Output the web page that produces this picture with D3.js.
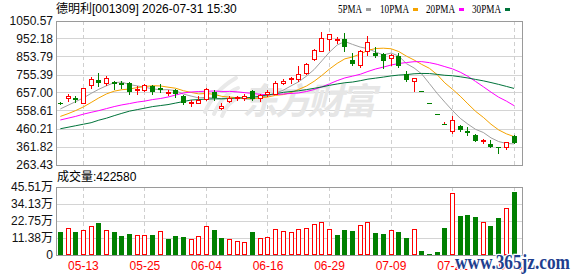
<!DOCTYPE html>
<html>
<head>
<meta charset="utf-8">
<script src="https://cdn.jsdelivr.net/npm/d3@7"></script>
<style>
    body { margin: 0; background: #fff; }
    svg { display: block; }
    text { font-family: "Liberation Sans", Arial, "Noto Sans CJK SC", sans-serif; }
</style>
</head>
<body>
<div id="chart"></div>
<script>
// trading days shown (60 candles)
let dates = ["05-08", "05-11", "05-12", "05-13", "05-14", "05-15", "05-18", "05-19", "05-20", "05-21",
    "05-22", "05-25", "05-26", "05-27", "05-28", "05-29", "06-01", "06-02", "06-03", "06-04",
    "06-05", "06-08", "06-09", "06-10", "06-11", "06-12", "06-15", "06-16", "06-17", "06-18",
    "06-22", "06-23", "06-24", "06-25", "06-26", "06-29", "06-30", "07-01", "07-02", "07-03",
    "07-06", "07-07", "07-08", "07-09", "07-10", "07-13", "07-14", "07-15", "07-16", "07-17",
    "07-20", "07-21", "07-22", "07-23", "07-24", "07-27", "07-28", "07-29", "07-30", "07-31"];

let open = [603, 630, 632, 603, 698, 726, 709, 715, 712, 709, 671, 673, 694, 684, 658, 671, 643, 603, 603, 625,
    661, 573, 612, 627, 627, 667, 628, 653, 654, 709, 731, 731, 768, 841, 887, 952, 946, 952, 838, 810,
    887, 878, 869, 851, 860, 759, 722, 667, 600, 540, 486, 452, 478, 451, 429, 392, 377, 361, 361, 423];
let high = [610, 652, 640, 684, 744, 764, 748, 720, 720, 719, 693, 706, 698, 704, 671, 680, 645, 621, 643, 686,
    672, 602, 640, 643, 649, 672, 649, 671, 722, 731, 746, 805, 823, 900, 988, 981, 963, 984, 878, 893,
    966, 906, 878, 869, 878, 777, 741, 667, 600, 540, 498, 529, 484, 469, 434, 408, 401, 363, 388, 426];
let low = [596, 616, 610, 600, 686, 695, 701, 681, 687, 649, 654, 668, 649, 661, 645, 636, 599, 584, 602, 621,
    621, 571, 606, 617, 617, 621, 612, 639, 649, 704, 709, 722, 759, 838, 884, 893, 930, 887, 808, 801,
    865, 856, 792, 810, 799, 722, 667, 667, 600, 540, 486, 438, 452, 429, 396, 383, 364, 331, 350, 385];
let close = [600, 640, 621, 682, 731, 712, 737, 706, 698, 660, 679, 698, 664, 671, 664, 653, 603, 610, 621, 680,
    631, 588, 627, 635, 639, 625, 646, 660, 713, 720, 740, 759, 814, 893, 957, 979, 954, 909, 814, 884,
    937, 860, 832, 863, 805, 728, 741, 667, 600, 540, 486, 511, 456, 441, 397, 401, 364, 355, 388, 386];
let prevClose = 607; // close of the day before 05-08

let volume = [153900, 178700, 153900, 167300, 192000, 214200, 165300, 153900, 127200, 138500,
    131800, 131800, 133900, 158600, 107100, 127200, 120500, 105100, 126000, 192000,
    167300, 113800, 107100, 93700, 87000, 153900, 113800, 120500, 172000, 160600,
    153900, 172000, 178700, 205500, 220900, 172000, 133900, 167300, 160600, 200800,
    220900, 147200, 140500, 167300, 153900, 113800, 172000, 26800, 6700, 20000,
    180700, 414900, 261000, 267700, 254300, 218800, 194100, 247600, 314600, 422580];

let ma5 = [570, 590, 610, 630, 654.8, 677.2, 696.6, 713.6, 716.8, 702.6, 696, 688.2, 679.8, 674.4, 675.2, 670, 651, 640.2, 630.2, 633.4,
    629, 626, 629.4, 632.2, 624, 622.8, 634.4, 641, 656.6, 672.8, 695.8, 718.4, 749.2, 785.2, 832.6, 880.4, 919.4, 938.4, 922.6, 908,
    899.6, 880.8, 865.4, 875.2, 859.4, 817.6, 793.8, 760.8, 708.2, 655.2, 606.8, 560.8, 518.6, 486.8, 458.2, 441.2, 411.8, 391.6, 381, 378.8];
let ma10 = [529, 544, 561, 581, 605, 630, 652, 667, 675, 678.7, 686.6, 692.4, 696.7, 695.6, 688.9, 683, 669.6, 660, 652.3, 654.3,
    649.5, 638.5, 634.8, 631.2, 628.7, 625.9, 630.2, 635.2, 644.4, 648.4, 659.3, 676.4, 695.1, 720.9, 752.7, 788.1, 818.9, 843.8, 853.9, 870.3,
    890, 900.1, 901.9, 898.9, 883.7, 858.6, 837.3, 813.1, 791.7, 757.3, 712.2, 677.3, 639.7, 597.5, 556.7, 524, 486.3, 455.1, 433.9, 418.5];
let ma20 = [509.5, 519.4, 529.3, 541.4, 551.3, 560.7, 571.7, 582.7, 592, 599.2, 607.4, 613, 621.2, 626.7, 635, 646, 657, 662.5, 665.2, 666.5,
    668, 665.5, 665.8, 663.4, 658.8, 654.5, 649.9, 647.6, 648.4, 651.4, 654.4, 657.5, 665, 676, 690.7, 707, 724.6, 739.5, 749.2, 759.4,
    774.7, 788.3, 798.5, 809.9, 818.2, 823.4, 828.1, 828.5, 822.8, 813.8, 801.1, 788.7, 770.8, 748.2, 720.2, 691.3, 661.8, 634.1, 612.8, 587.9];
let ma30 = [461.6, 469.8, 478.1, 486.4, 494.6, 508.4, 519.4, 533.1, 545.8, 557.9, 566.2, 574.4, 582.7, 588.2, 593.7, 602, 610.2, 618.5, 621.2, 624,
    625, 625, 626.7, 629.5, 630.6, 633.3, 640, 647, 653, 660.5, 665.1, 669.1, 675.5, 682.6, 690.1, 699, 706.2, 713, 716.9, 724.3,
    732.9, 738.3, 743.9, 750.3, 755, 757.5, 762.1, 764, 763.3, 758.7, 753.8, 751.3, 745.6, 739.1, 731.1, 723.5, 714.1, 704, 693.1, 682];

let priceTicks = [263.43, 361.82, 460.21, 558.61, 657.00, 755.39, 853.79, 952.18, 1050.57];
let volTicks = [0, 113775, 227550, 341325, 455100];
let volLabels = ["0", "11.38万", "22.75万", "34.13万", "45.51万"];
let dateTicks = ["05-13", "05-25", "06-04", "06-16", "06-29", "07-09", "07-21", "07-31"];
let maNames = ["5PMA", "10PMA", "20PMA", "30PMA"];
let maColors = ["#a0a0a0", "#f5a300", "#ff00ff", "#00733a"];

let width = 578, height = 276;
let left = 56, right = 522;
let priceTop = 21, priceBottom = 165;
let volTop = 187, volBottom = 255;
let upColor = "#ff0000", downColor = "#008000";

let svg = d3.select("#chart").append("svg")
    .attr("width", width)
    .attr("height", height);

let x = d3.scaleBand().domain(dates).range([left, left + dates.length * 7.69]);
let y = d3.scaleLinear().domain([priceTicks[0], priceTicks[priceTicks.length - 1]]).range([priceBottom, priceTop]);
let yv = d3.scaleLinear().domain([volTicks[0], volTicks[volTicks.length - 1]]).range([volBottom, volTop]);

let bw = x.bandwidth();
let col = d => Math.round(x(d) + bw / 2);   // pixel column of a candle
let crisp = v => Math.floor(v) + 0.5;

// grid
let grid = svg.append("g");
grid.selectAll(".pgrid").data(priceTicks.slice(1, -1)).join("line")
    .attr("x1", left).attr("x2", right)
    .attr("y1", d => crisp(y(d))).attr("y2", d => crisp(y(d)))
    .attr("stroke", "#d4d4d4");
grid.selectAll(".vgrid").data(volTicks.slice(1, -1)).join("line")
    .attr("x1", left).attr("x2", right)
    .attr("y1", d => crisp(yv(d))).attr("y2", d => crisp(yv(d)))
    .attr("stroke", "#d4d4d4");
[[priceTop, priceBottom], [volTop, volBottom]].forEach(([t, b]) => {
    grid.append("g").selectAll("line").data(dateTicks).join("line")
        .attr("x1", d => col(d) + 0.5).attr("x2", d => col(d) + 0.5)
        .attr("y1", t).attr("y2", b)
        .attr("stroke", "#cfcfcf")
        .attr("stroke-dasharray", "4,3");
});

// background watermark
let wm = svg.append("g").attr("fill", "none").attr("stroke", "#e9e9e9").attr("stroke-width", 4).attr("stroke-linecap", "round");
wm.append("path").attr("d", "M205,112 C212,96 222,86 236,78");
wm.append("path").attr("d", "M214,114 C220,100 228,92 238,88");
wm.append("path").attr("d", "M222,116 C226,106 232,100 238,98");
svg.append("text")
    .attr("x", 242).attr("y", 114)
    .attr("textLength", 134)
    .style("font-family", "'Noto Sans CJK SC', sans-serif")
    .style("font-size", "36px")
    .style("font-weight", "bold")
    .style("font-style", "italic")
    .attr("fill", "#e6e6e6")
    .text("东方财富");

// frames
svg.append("rect").attr("x", left + 0.5).attr("y", priceTop + 0.5)
    .attr("width", right - left).attr("height", priceBottom - priceTop)
    .attr("fill", "none").attr("stroke", "#9a9a9a");
svg.append("rect").attr("x", left + 0.5).attr("y", volTop + 0.5)
    .attr("width", right - left).attr("height", volBottom - volTop)
    .attr("fill", "none").attr("stroke", "#9a9a9a");

// moving averages
[ma5, ma10, ma20, ma30].forEach((ma, k) => {
    let line = d3.line()
        .x((d, i) => x(dates[i]) + bw / 2 + 0.5)
        .y(d => y(d));
    svg.append("path").datum(ma)
        .attr("d", line)
        .attr("fill", "none")
        .attr("stroke", maColors[k])
        .attr("stroke-width", 1);
});

// candles
let candles = svg.append("g").selectAll("g").data(dates).join("g");
candles.append("line")
    .attr("x1", d => col(d) + 0.5).attr("x2", d => col(d) + 0.5)
    .attr("y1", (d, i) => Math.round(y(high[i])))
    .attr("y2", (d, i) => Math.round(y(low[i])) + 1)
    .attr("stroke", (d, i) => close[i] >= open[i] ? upColor : downColor);
candles.append("rect")
    .each(function (d, i) {
        let c = col(d);
        let r = d3.select(this);
        if (close[i] > open[i]) {
            let top = Math.round(y(close[i])) + 0.5;
            let bottom = Math.round(y(open[i])) + 0.5;
            r.attr("x", c - 1.5).attr("width", 4)
                .attr("y", top).attr("height", Math.max(1, bottom - top))
                .attr("fill", "#fff").attr("stroke", upColor);
        } else {
            let top = Math.round(y(open[i]));
            let bottom = Math.round(y(close[i]));
            r.attr("x", c - 2).attr("width", 5)
                .attr("y", top).attr("height", Math.max(1, bottom - top))
                .attr("fill", downColor);
        }
    });

// volume bars, coloured by change against the previous close
svg.append("g").selectAll("rect").data(dates).join("rect")
    .each(function (d, i) {
        let c = col(d);
        let r = d3.select(this);
        let before = i === 0 ? prevClose : close[i - 1];
        if (close[i] >= before) {
            let top = Math.round(yv(volume[i])) + 0.5;
            r.attr("x", c - 1.5).attr("width", 4)
                .attr("y", top).attr("height", volBottom - 0.5 - top)
                .attr("fill", "#fff").attr("stroke", upColor);
        } else {
            let top = Math.round(yv(volume[i]));
            r.attr("x", c - 2).attr("width", 5)
                .attr("y", top).attr("height", volBottom - top)
                .attr("fill", downColor);
        }
    });

// axes
let priceAxis = svg.append("g")
    .attr("transform", "translate(" + left + ",0)")
    .call(d3.axisLeft(y).tickValues(priceTicks).tickFormat(d => d.toFixed(2)).tickSize(0).tickPadding(3));
let volAxis = svg.append("g")
    .attr("transform", "translate(" + left + ",0)")
    .call(d3.axisLeft(yv).tickValues(volTicks).tickFormat((d, i) => volLabels[i]).tickSize(0).tickPadding(3));
let dateAxis = svg.append("g")
    .attr("transform", "translate(0," + volBottom + ")")
    .call(d3.axisBottom(x).tickValues(dateTicks).tickSize(0).tickPadding(6.5));
[priceAxis, volAxis, dateAxis].forEach(a => {
    a.select(".domain").remove();
    a.selectAll("text")
        .style("font-family", "'Liberation Sans', Arial, 'Noto Sans CJK SC', sans-serif")
        .style("font-size", "12px")
        .attr("fill", "#111");
});
dateAxis.selectAll("text").attr("fill", "#f00").attr("x", 0.5);

// titles
svg.append("text")
    .attr("x", left).attr("y", 12.5)
    .style("font-size", "12px")
    .attr("fill", "#000")
    .text("德明利[001309] 2026-07-31 15:30");
svg.append("text")
    .attr("x", left + 1).attr("y", 181)
    .style("font-size", "12px")
    .attr("fill", "#000")
    .text("成交量:" + volume[volume.length - 1]);

// legend
let legendX = [338, 380, 426, 472];
let legend = svg.append("g").selectAll("g").data(maNames).join("g");
legend.append("text")
    .attr("x", (d, i) => legendX[i]).attr("y", 12.5)
    .attr("textLength", (d, i) => i === 0 ? 24 : 29)
    .attr("lengthAdjust", "spacingAndGlyphs")
    .style("font-family", "'Liberation Serif', serif")
    .style("font-size", "12px")
    .attr("fill", "#000")
    .text(d => d);
legend.append("rect")
    .attr("x", (d, i) => legendX[i] + (i === 0 ? 28 : 33)).attr("y", 8)
    .attr("width", 5).attr("height", 3)
    .attr("fill", (d, i) => maColors[i]);

// site watermark
svg.append("text")
    .attr("x", 455).attr("y", 269)
    .attr("textLength", 115)
    .attr("lengthAdjust", "spacingAndGlyphs")
    .style("font-family", "'Liberation Serif', serif")
    .style("font-size", "20px")
    .style("font-weight", "bold")
    .attr("fill", "#1f3f8f")
    .attr("stroke", "#fff")
    .attr("stroke-width", 2.5)
    .attr("paint-order", "stroke")
    .text("www.365jz.com");
</script>
</body>
</html>
